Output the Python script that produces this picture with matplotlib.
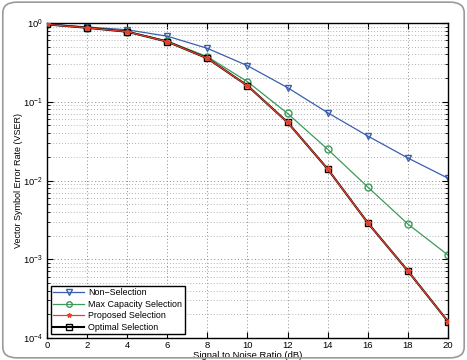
import matplotlib
matplotlib.use("Agg")
import matplotlib.pyplot as plt
from matplotlib.patches import FancyBboxPatch
from matplotlib.ticker import LogLocator, NullFormatter

plt.rcParams['font.family'] = ['Liberation Sans', 'DejaVu Sans']

snr = [0, 2, 4, 6, 8, 10, 12, 14, 16, 18, 20]
non_selection = [0.97, 0.89, 0.82, 0.68, 0.477, 0.287, 0.151, 0.0726, 0.0367, 0.0193, 0.0107]
max_capacity = [0.96, 0.87, 0.78, 0.59, 0.373, 0.18, 0.071, 0.0249, 0.00826, 0.0028, 0.00113]
proposed = [0.96, 0.87, 0.775, 0.58, 0.356, 0.16, 0.0548, 0.014, 0.0029, 0.00071, 0.000162]
optimal = [0.96, 0.87, 0.775, 0.58, 0.356, 0.16, 0.0548, 0.014, 0.0029, 0.00071, 0.000162]

fig = plt.figure(figsize=(4.67, 3.6), dpi=100)
fig.patch.set_facecolor('white')
border = FancyBboxPatch((0.006, 0.006), 0.988, 0.988, boxstyle="round,pad=0,rounding_size=0.03",
                        transform=fig.transFigure, facecolor='none', edgecolor='#9a9a9a', lw=1.2)
fig.patches.append(border)

ax = fig.add_axes([0.1006, 0.0611, 0.8587, 0.875])
ax.semilogy(snr, non_selection, color='#3a5fb0', marker='v', mfc='none', mec='#3a5fb0', ms=5, lw=0.9, label='Non\u2212Selection')
ax.semilogy(snr, max_capacity, color='#3d9a5a', marker='o', mfc='none', mec='#3d9a5a', ms=5, lw=0.9, label='Max Capacity Selection')
ax.semilogy(snr, optimal, color='black', marker='s', mfc='none', mec='black', ms=5, lw=1.5, label='Optimal Selection', zorder=2)
ax.semilogy(snr, proposed, color='#e8402a', marker='*', mfc='#e8402a', mec='#e8402a', ms=4, lw=0.9, label='Proposed Selection', zorder=3)

ax.set_xlim(0, 20)
ax.set_ylim(1e-4, 1)
ax.set_xticks(range(0, 21, 2))
ax.yaxis.set_major_locator(LogLocator(base=10, numticks=10))
ax.yaxis.set_minor_locator(LogLocator(base=10, subs=range(2, 10), numticks=20))
ax.yaxis.set_minor_formatter(NullFormatter())
ax.grid(True, which='major', linestyle=(0, (1, 2.5)), color='#8a8a8a', lw=0.7)
ax.grid(True, which='minor', axis='y', linestyle=(0, (1, 2.5)), color='#9a9a9a', lw=0.6)
ax.tick_params(which='both', direction='in', top=True, right=True, labelsize=6.8, pad=3)
ax.tick_params(axis='x', which='both', pad=2)
ax.tick_params(which='major', length=4)
ax.tick_params(which='minor', length=2)
for s in ax.spines.values():
    s.set_linewidth(1.0)

ax.set_xlabel('Signal to Noise Ratio (dB)', fontsize=6.8, va='center')
ax.xaxis.set_label_coords(0.5, -0.055)
ax.set_ylabel('Vector Symbol Error Rate (VSER)', fontsize=6.5)
ax.yaxis.set_label_coords(-0.06, 0.5)

handles, labels = ax.get_legend_handles_labels()
order = [0, 1, 3, 2]
leg = ax.legend([handles[i] for i in order], [labels[i] for i in order], loc='lower left',
                prop={'size': 6.4}, frameon=True, fancybox=False, edgecolor='black', framealpha=1,
                borderaxespad=0.4, handlelength=3.5, handletextpad=0.45, labelspacing=0.28, borderpad=0.3,
                markerscale=0.8)
leg.get_frame().set_linewidth(1.0)

fig.savefig('out.png', dpi=100)
